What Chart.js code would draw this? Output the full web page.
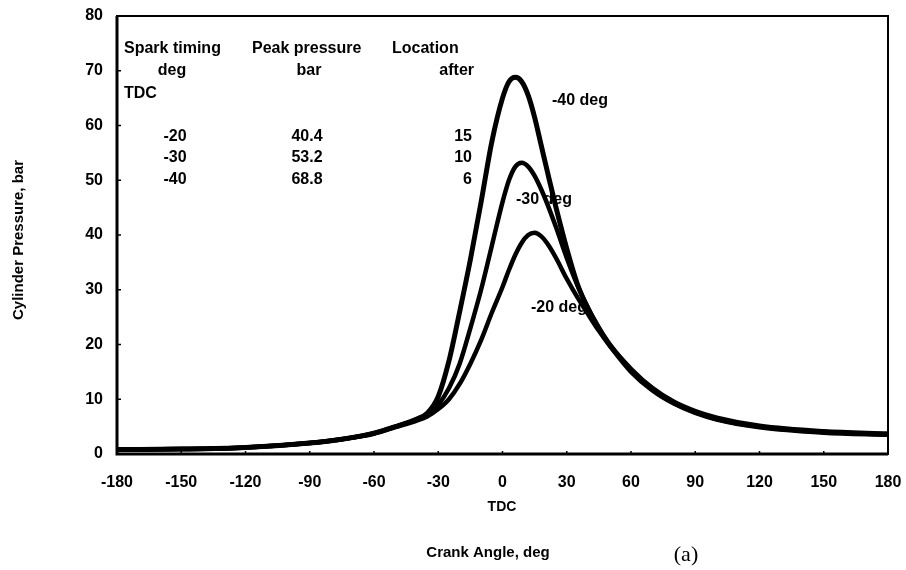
<!DOCTYPE html>
<html><head><meta charset="utf-8">
<script src="https://cdn.jsdelivr.net/npm/chart.js@4.4.1/dist/chart.umd.min.js"></script>
<style>html,body{margin:0;padding:0;background:#fff}#wrap{width:906px;height:570px}</style>
</head><body><div id="wrap"><canvas id="c" width="906" height="570"></canvas></div>
<script>
// ---- data ----
const crankAngle = [-180,-150,-120,-90,-75,-60,-50,-40,-35,-30,-25,-20,-15,-10,-5,0,3,6,9,12,15,18,21,25,30,35,40,45,50,60,70,80,90,100,120,150,180];
const spark40 = [0.8,0.9,1.2,2.0,2.7,3.8,5.0,6.4,7.5,10.5,17,26,35.5,46,57,65,68,68.8,68,65.5,61.5,56.5,51.5,45,37.5,31,26.5,23,20,15.5,12,9.5,7.8,6.6,5.1,4.1,3.7];
const spark30 = [0.8,0.9,1.2,2.0,2.7,3.8,5.0,6.3,7.2,9,12,16.5,23,30,38,46,50,52.5,53.2,52.5,50.8,48.4,45.6,41.4,35.8,30.8,26.6,23,20,15.3,11.8,9.3,7.6,6.4,5.0,4.0,3.6];
const spark20 = [0.8,0.9,1.2,2.0,2.7,3.7,4.9,6.1,6.9,8.2,10,12.8,16.5,20.8,25.8,30.5,33.6,36.4,38.6,40,40.4,39.8,38.4,35.8,32,28.6,25.5,22.5,19.8,15,11.6,9.2,7.5,6.3,4.9,3.9,3.5];
const seriesNames = ['-40 deg','-30 deg','-20 deg'];
const xTickValues = [-180,-150,-120,-90,-60,-30,0,30,60,90,120,150,180];
const yTickValues = [0,10,20,30,40,50,60,70,80];
const tableHeader1 = ['Spark timing','Peak pressure','Location'];
const tableHeader2 = ['deg','bar','after'];
const tableHeader3 = ['TDC'];
const tableSpark = ['-20','-30','-40'];
const tablePeak = ['40.4','53.2','68.8'];
const tableLocation = ['15','10','6'];

const FONT = "'Liberation Sans', Arial, sans-serif";
const toPts = ys => crankAngle.map((x,i)=>({x:x,y:ys[i]}));

function txt(ctx, s, x, y, align, size, font){
  ctx.save();
  ctx.font = font || ('bold '+size+'px '+FONT);
  ctx.fillStyle = '#000';
  ctx.textAlign = align; ctx.textBaseline = 'middle';
  ctx.fillText(s, x, y);
  ctx.restore();
}

const textPlugin = {
  id:'texts',
  beforeDatasetsDraw(chart){
    const ctx = chart.ctx;
    const colX = [124, 252, 392];
    tableHeader1.forEach((s,i)=>txt(ctx,s,colX[i],49,'left',16));
    txt(ctx,tableHeader2[0],172,71,'center',16);
    txt(ctx,tableHeader2[1],309,71,'center',16);
    txt(ctx,tableHeader2[2],474,71,'right',16);
    txt(ctx,tableHeader3[0],124,94,'left',16);
    const rowY = [137,158,180];
    rowY.forEach((y,i)=>{
      txt(ctx,tableSpark[i],175,y,'center',16);
      txt(ctx,tablePeak[i],307,y,'center',16);
      txt(ctx,tableLocation[i],472,y,'right',16);
    });
    txt(ctx,seriesNames[0],552,101,'left',16);
    txt(ctx,seriesNames[1],516,200,'left',16);
    txt(ctx,seriesNames[2],531,308,'left',16);
  },
  afterDraw(chart){
    const ctx = chart.ctx, a = chart.chartArea;
    ctx.save();
    ctx.strokeStyle = '#000';
    ctx.lineWidth = 2;
    ctx.strokeRect(a.left, a.top, a.right-a.left, a.bottom-a.top);
    ctx.lineWidth = 3;
    ctx.beginPath();
    ctx.moveTo(a.left, a.top); ctx.lineTo(a.left, a.bottom); ctx.lineTo(a.right, a.bottom);
    ctx.stroke();
    ctx.lineWidth = 1.5;
    const xs = chart.scales.x, ys = chart.scales.y;
    ctx.beginPath();
    yTickValues.forEach(v=>{const p=ys.getPixelForValue(v); ctx.moveTo(a.left,p); ctx.lineTo(a.left+4,p);});
    xTickValues.forEach(v=>{const p=xs.getPixelForValue(v); ctx.moveTo(p,a.bottom); ctx.lineTo(p,a.bottom-3);});
    ctx.stroke();
    ctx.restore();
    txt(ctx,'TDC',502,507,'center',14);
    txt(ctx,'Crank Angle, deg',488,553,'center',15);
    txt(ctx,'(a)',686,555,'center',0,"22px 'Liberation Serif', 'Times New Roman', serif");
    ctx.save();
    ctx.translate(19,240); ctx.rotate(-Math.PI/2);
    txt(ctx,'Cylinder Pressure, bar',0,0,'center',15);
    ctx.restore();
  }
};

const lineDs = (label, ys, w) => ({
  label, data: toPts(ys), borderColor:'#000', backgroundColor:'#000',
  borderWidth:w, pointRadius:0, cubicInterpolationMode:'monotone', fill:false
});

new Chart(document.getElementById('c'), {
  type:'line',
  data:{ datasets:[ lineDs(seriesNames[0],spark40,5), lineDs(seriesNames[1],spark30,4.5), lineDs(seriesNames[2],spark20,4.5) ] },
  options:{
    responsive:false, devicePixelRatio:1, animation:false,
    layout:{ padding:{ top:16, right:18, left:0, bottom:0 } },
    plugins:{ legend:{display:false}, tooltip:{enabled:false} },
    scales:{
      x:{ type:'linear', min:-180, max:180,
          afterBuildTicks:s=>{ s.ticks = xTickValues.map(v=>({value:v})); },
          afterFit:s=>{ s.height = 116; s.paddingLeft = 0; s.paddingRight = 0; },
          grid:{display:false, drawTicks:false}, border:{display:false},
          ticks:{ padding:19, color:'#000', font:{family:FONT, size:16, weight:'bold'}, maxRotation:0 } },
      y:{ type:'linear', min:0, max:80,
          afterBuildTicks:s=>{ s.ticks = yTickValues.map(v=>({value:v})); },
          afterFit:s=>{ s.width = 117; s.paddingTop = 0; s.paddingBottom = 0; },
          grid:{display:false, drawTicks:false}, border:{display:false},
          ticks:{ padding:14, color:'#000', font:{family:FONT, size:16, weight:'bold'} } }
    }
  },
  plugins:[textPlugin]
});
</script></body></html>
